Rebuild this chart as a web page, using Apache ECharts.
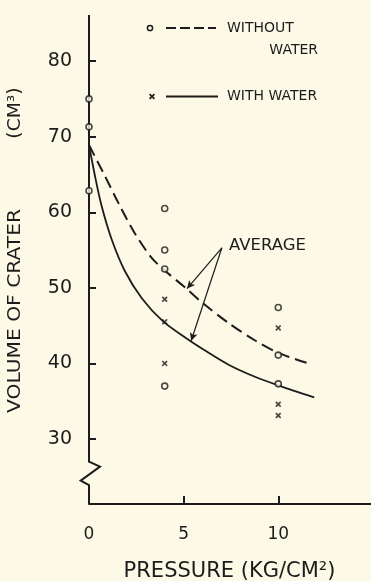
<!DOCTYPE html>
<html>
<head>
<meta charset="utf-8">
<script src="https://cdn.jsdelivr.net/npm/echarts@6/dist/echarts.min.js"></script>
<style>
html,body{margin:0;padding:0;background:#fcf9e6;}
#chart{width:371px;height:581px;}
</style>
</head>
<body>
<div id="chart"></div>
<script>
// ---- data ----
const pressureTicks = [0, 5, 10];
const pressureMinorTicks = [5, 10];
const volumeTicks = [30, 40, 50, 60, 70, 80];
const xRange = [0, 14.9];
const yRange = [21.4, 86.1];

// measured points: circles (without water) and crosses (with water)
const withoutWater = [[0,75.0],[0,71.3],[0,62.85],[4,60.5],[4,55.0],[4,52.5],[4,37.0],[10,47.4],[10,41.1],[10,37.3]];
const withWater = [[4,48.5],[4,45.5],[4,40.0],[10,44.7],[10,34.6],[10,33.1]];

// average curves
const avgWithout = [[0,68.9],[0.8,65.0],[1.6,61.0],[2.4,57.3],[3.3,54.0],[4.0,52.3],[5.1,50.0],[6.0,48.0],[7.4,45.3],[8.8,43.0],[10.0,41.4],[11.6,40.0]];
const avgWith = [[0,68.9],[0.3,65.0],[0.65,61.0],[1.2,56.4],[1.9,52.2],[2.8,48.6],[3.9,45.6],[5.1,43.4],[6.2,41.6],[7.4,39.8],[8.8,38.2],[10.0,37.1],[11.9,35.5]];

// "AVERAGE" pointer arrows (start, tip) in data units
const averageArrows = [[[7.02,55.3],[5.18,49.9]], [[7.02,55.3],[5.4,43.0]]];
// vertical axis with zig-zag break, in data units
const yAxisBreak = [[0,86.1],[0,27.0],[0.58,26.35],[-0.44,24.5],[0,23.9],[0,21.4]];

const INK = '#1c1c1c';
const BG = '#fcf9e6';
const crossPath = 'path://M0,2L2,0L5,3L8,0L10,2L7,5L10,8L8,10L5,7L2,10L0,8L3,5Z';
const crossShape = [[0,1.2],[1.2,0],[3,1.8],[4.8,0],[6,1.2],[4.2,3],[6,4.8],[4.8,6],[3,4.2],[1.2,6],[0,4.8],[1.8,3]];

const chart = echarts.init(document.getElementById('chart'), null, {renderer:'canvas'});
const legendAndTitles = [
  // legend
  {type: 'circle', shape: {cx: 150, cy: 28, r: 2.6}, style: {fill: BG, stroke: INK, lineWidth: 1.5}},
  {type: 'line', shape: {x1: 166, y1: 28, x2: 216, y2: 28}, style: {stroke: INK, lineWidth: 2, lineDash: [10, 4]}},
  {type: 'text', x: 227, y: 28, style: {text: 'WITHOUT', font: '14px "DejaVu Sans"', fill: INK, align: 'left', verticalAlign: 'middle'}},
  {type: 'text', x: 318, y: 50, style: {text: 'WATER', font: '14px "DejaVu Sans"', fill: INK, align: 'right', verticalAlign: 'middle'}},
  {type: 'polygon', x: 149, y: 93.5, shape: {points: crossShape}, style: {fill: INK}},
  {type: 'line', shape: {x1: 166, y1: 96.5, x2: 218, y2: 96.5}, style: {stroke: INK, lineWidth: 1.8}},
  {type: 'text', x: 227, y: 96.5, style: {text: 'WITH WATER', font: '14px "DejaVu Sans"', fill: INK, align: 'left', verticalAlign: 'middle'}},
  // annotation
  {type: 'text', x: 229, y: 246, style: {text: 'AVERAGE', font: '16.5px "DejaVu Sans"', fill: INK, align: 'left', verticalAlign: 'middle'}},
  // axis titles
  {type: 'text', x: 16, y: 311, rotation: Math.PI / 2, scaleX: 1.19, style: {text: 'VOLUME OF CRATER', font: '17px "DejaVu Sans"', fill: INK, align: 'center', verticalAlign: 'middle'}},
  {type: 'text', x: 16, y: 113, rotation: Math.PI / 2, scaleX: 1.1, style: {text: '(CM³)', font: '17px "DejaVu Sans"', fill: INK, align: 'center', verticalAlign: 'middle'}},
  {type: 'text', x: 229.5, y: 572, style: {text: 'PRESSURE (KG/CM²)', font: '21px "DejaVu Sans"', fill: INK, align: 'center', verticalAlign: 'middle'}}
];

chart.setOption({
  backgroundColor: BG,
  animation: false,
  grid: {left: 89, right: 0, top: 15, bottom: 77, containLabel: false},
  xAxis: {
    type: 'value', min: xRange[0], max: xRange[1],
    axisLine: {show: true, lineStyle: {color: INK, width: 2}},
    axisTick: {show: true, inside: true, length: 8, lineStyle: {color: INK, width: 2}, customValues: pressureMinorTicks},
    axisLabel: {show: true, margin: 22, color: INK, fontSize: 17, fontFamily: 'DejaVu Sans', customValues: pressureTicks},
    splitLine: {show: false}
  },
  yAxis: {
    type: 'value', min: yRange[0], max: yRange[1],
    axisLine: {show: false},
    axisTick: {show: true, inside: true, length: 7, lineStyle: {color: INK, width: 2}, customValues: volumeTicks},
    axisLabel: {show: true, margin: 17, color: INK, fontSize: 19, fontFamily: 'DejaVu Sans', customValues: volumeTicks},
    splitLine: {show: false}
  },
  series: [
    {
      name: 'WITHOUT WATER', type: 'line', data: avgWithout, smooth: 0.3, showSymbol: false, z: 2,
      lineStyle: {color: INK, width: 2, type: [12, 6]},
      markLine: {
        silent: true, symbol: ['none', 'arrow'], symbolSize: [6, 8],
        label: {show: false},
        lineStyle: {color: INK, width: 1.2, type: 'solid'},
        data: averageArrows.map(a => [{coord: a[0]}, {coord: a[1]}])
      }
    },
    {
      name: 'WITH WATER', type: 'line', data: avgWith, smooth: 0.3, showSymbol: false, z: 2,
      lineStyle: {color: INK, width: 1.8}
    },
    {
      type: 'scatter', data: withoutWater, symbol: 'circle', symbolSize: 6, z: 5,
      itemStyle: {color: BG, borderColor: INK, borderWidth: 1.6}
    },
    {
      type: 'scatter', data: withWater, symbol: crossPath, symbolSize: 6, z: 5,
      itemStyle: {color: INK}
    }
  ],
  graphic: legendAndTitles
});

// y axis line with zig-zag break, placed through the grid's own scales
const breakPixels = yAxisBreak.map(p => chart.convertToPixel({gridIndex: 0}, p));
chart.setOption({
  graphic: legendAndTitles.concat([
    {type: 'polyline', z: 1, shape: {points: breakPixels}, style: {stroke: INK, lineWidth: 2, fill: null, lineJoin: 'miter'}}
  ])
});
</script>
</body>
</html>
